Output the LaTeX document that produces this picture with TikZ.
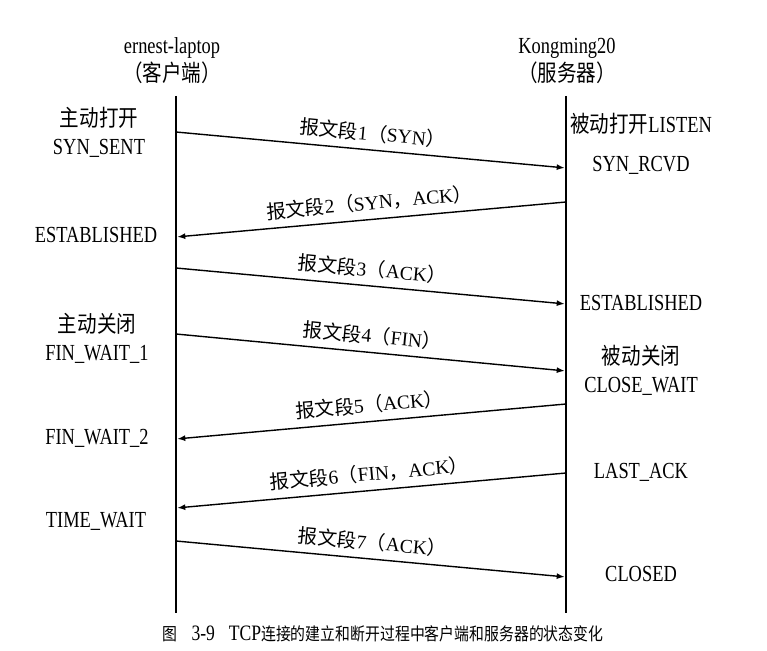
\documentclass[tikz,border=0pt]{standalone}
\usepackage{fontspec}
\setmainfont{Liberation Serif}[FakeStretch=0.8]
\newfontfamily\cjk{Noto Sans CJK SC}[FakeStretch=0.85]
\newfontfamily\lbl{Liberation Serif}
\newfontfamily\lblcjk{Noto Sans CJK SC}
\usetikzlibrary{arrows.meta}
\newcommand{\zh}[1]{{\cjk #1}}
\newcommand{\segtext}[2]{{\lbl\fontsize{19.5}{22}\selectfont
  {\lblcjk 报文段}#1{\lblcjk （}#2{\lblcjk ）}}}
\newcommand{\comma}{{\lblcjk ，}}

\begin{document}
\begin{tikzpicture}[x=1pt, y=-1pt,
    every node/.style={font=\fontsize{23}{28}\selectfont, inner sep=2pt, align=center},
    lifeline/.style={line width=2.6pt},
    msg/.style={line width=1.4pt, shorten >=1.3pt, -{Latex[length=8pt, width=6pt]}},
    seg/.style={above=5pt, sloped}]
  \useasboundingbox (0,0) rectangle (767,650);
  % hosts
  \node (client) at (172,61) {ernest-laptop\\\zh{（客户端）}};
  \node (server) at (567,61) {Kongming20\\\zh{（服务器）}};
  \coordinate (clitop) at (176,96);
  \coordinate (clibot) at (176,613);
  \coordinate (srvtop) at (566,96);
  \coordinate (srvbot) at (566,613);
  \draw[lifeline] (clitop) -- (clibot);
  \draw[lifeline] (srvtop) -- (srvbot);
  % client states
  \node (synsent) at (99,132) {\zh{主动打开}\\SYN\_SENT};
  \node (cliest) at (96,235) {ESTABLISHED};
  \node (finwait1) at (97,338) {\zh{主动关闭}\\FIN\_WAIT\_1};
  \node (finwait2) at (97,438) {FIN\_WAIT\_2};
  \node (timewait) at (96,521) {TIME\_WAIT};
  % server states
  \node (listen) at (641,124) {\zh{被动打开}LISTEN};
  \node (synrcvd) at (641,165) {SYN\_RCVD};
  \node (srvest) at (641,303) {ESTABLISHED};
  \node (closewait) at (641,370) {\zh{被动关闭}\\CLOSE\_WAIT};
  \node (lastack) at (641,472) {LAST\_ACK};
  \node (closed) at (641,574) {CLOSED};
  % segments
  \coordinate (c1) at (176,132); \coordinate (s1) at (566,168);
  \coordinate (s2) at (566,202); \coordinate (c2) at (176,237);
  \coordinate (c3) at (176,268); \coordinate (s3) at (566,304);
  \coordinate (c4) at (176,334); \coordinate (s4) at (566,371);
  \coordinate (s5) at (566,404); \coordinate (c5) at (176,439);
  \coordinate (s6) at (566,473); \coordinate (c6) at (176,508);
  \coordinate (c7) at (176,541); \coordinate (s7) at (566,577);
  \draw[msg] (c1) -- node[seg] {\segtext{1}{SYN}} (s1);
  \draw[msg] (s2) -- node[seg] {\segtext{2}{SYN\comma ACK}} (c2);
  \draw[msg] (c3) -- node[seg] {\segtext{3}{ACK}} (s3);
  \draw[msg] (c4) -- node[seg] {\segtext{4}{FIN}} (s4);
  \draw[msg] (s5) -- node[seg] {\segtext{5}{ACK}} (c5);
  \draw[msg] (s6) -- node[seg] {\segtext{6}{FIN\comma ACK}} (c6);
  \draw[msg] (c7) -- node[seg] {\segtext{7}{ACK}} (s7);
  % caption
  \node[font=\fontsize{17.5}{20}\selectfont] (caption) at (383,634)
    {\zh{图}\hspace{0.8em}{\fontsize{22}{22}\selectfont 3-9}\hspace{0.8em}{\fontsize{22}{22}\selectfont TCP}\zh{连接的建立和断开过程中客户端和服务器的状态变化}};
\end{tikzpicture}
\end{document}
